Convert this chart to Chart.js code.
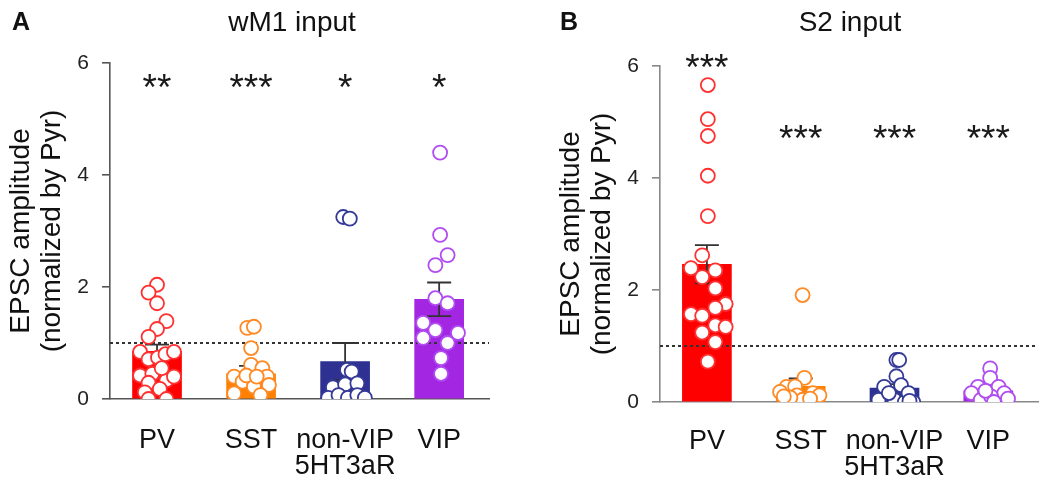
<!DOCTYPE html>
<html>
<head>
<meta charset="utf-8">
<script src="https://cdn.jsdelivr.net/npm/chart.js@4.4.1/dist/chart.umd.min.js"></script>
<style>
  body { margin: 0; background: #fff; }
  #wrap { position: relative; width: 1050px; height: 486px; font-family: "Liberation Sans", Arial, sans-serif; color: #111; }
  canvas { position: absolute; top: 0; }
  .lbl { position: absolute; white-space: nowrap; }
  .panel { font-weight: bold; font-size: 25px; line-height: 25px; }
  .title { font-size: 28px; line-height: 28px; transform: translateX(-50%); }
</style>
</head>
<body>
<div id="wrap">
  <canvas id="chartA" width="525" height="486" style="left:0"></canvas>
  <canvas id="chartB" width="525" height="486" style="left:525px"></canvas>
  <div class="lbl panel" style="left:12px; top:9px">A</div>
  <div class="lbl title" style="left:292px; top:8px">wM1 input</div>
  <div class="lbl panel" style="left:560px; top:9px">B</div>
  <div class="lbl title" style="left:850px; top:8px">S2 input</div>
</div>
<script>
const FONT = '"Liberation Sans", Arial, sans-serif';

// groups on the x axis
const tickLabels = [["PV"], ["SST"], ["non-VIP", "5HT3aR"], ["VIP"]];
const barColors = ["#ff0000", "#ff8000", "#2e3192", "#a326e3"];
const pointColors = ["#ff3030", "#ff8a24", "#343a96", "#b04cf0"];

// ---- panel A : wM1 input ----
const meanA = [0.85, 0.45, 0.67, 1.78];
const semA = [0.12, 0.14, 0.33, 0.3];
const starsA = ["**", "***", "*", "*"];
const starYA = [5.73, 5.73, 5.73, 5.73];
// [jitter offset (category units), value]
const pvA = [[0, 2.04], [-0.09, 1.9], [0, 1.71], [0.1, 1.39], [0, 1.25], [-0.09, 1.11],
  [-0.18, 0.84], [-0.09, 0.71], [0.01, 0.74], [0.09, 0.8], [0.18, 0.84], [-0.18, 0.42],
  [-0.05, 0.45], [0.1, 0.33], [0.18, 0.4], [-0.09, 0.29], [0.03, 0.18], [-0.13, 0.12],
  [-0.09, 0.0], [0.1, 0.0], [0.05, 0.55]];
const sstA = [[-0.04, 1.27], [0.03, 1.29], [0, 0.91], [0, 0.61], [0.12, 0.55], [-0.18, 0.4],
  [0.17, 0.4], [-0.09, 0.31], [0.03, 0.22], [0.19, 0.25], [-0.18, 0.1], [0.1, 0.07],
  [-0.05, 0.42], [0.06, 0.4]];
const nonVipA = [[-0.02, 3.25], [0.05, 3.22], [0.02, 0.52], [0.07, 0.49], [-0.13, 0.21],
  [0, 0.26], [0.13, 0.28], [-0.18, 0.02], [-0.07, 0.07], [0.03, 0.02], [0.13, 0.07], [0.21, 0.02]];
const vipA = [[0.01, 4.4], [0.01, 2.93], [0.09, 2.57], [-0.04, 2.39], [-0.04, 1.8], [0.09, 1.71],
  [-0.17, 1.36], [-0.04, 1.23], [0.2, 1.18], [-0.17, 1.09], [0.09, 1.0], [0.02, 0.73], [0.02, 0.45]];

// ---- panel B : S2 input ----
const meanB = [2.46, 0.28, 0.25, 0.2];
const semB = [0.34, 0.14, 0.07, 0.05];
const starsB = ["***", "***", "***", "***"];
const starYB = [6.14, 4.86, 4.86, 4.86];
const pvB = [[0.01, 5.66], [0.01, 5.05], [0.01, 4.75], [0.01, 4.04], [0.01, 3.32], [-0.05, 2.62],
  [-0.17, 2.39], [0.09, 2.35], [-0.05, 2.23], [0.09, 2.03], [0.2, 1.75], [0.09, 1.68],
  [-0.17, 1.57], [-0.05, 1.54], [0.09, 1.37], [0.2, 1.34], [-0.05, 1.24], [0.09, 1.07], [0.01, 0.72]];
const sstB = [[0.02, 1.91], [0.04, 0.43], [-0.15, 0.27], [-0.06, 0.28], [-0.22, 0.18], [-0.04, 0.12],
  [0.13, 0.16], [0.2, 0.12], [0.02, 0.04], [-0.11, 0.08], [0.1, 0.06], [-0.18, 0.1]];
const nonVipB = [[0.02, 0.75], [0.05, 0.75], [0.02, 0.46], [-0.11, 0.27], [0.07, 0.3], [-0.17, 0.04],
  [0, 0.04], [0.11, 0.0], [0.2, 0.0], [-0.06, 0.16], [0.15, 0.16], [0.16, 0.02]];
const vipB = [[0.02, 0.6], [0.02, 0.43], [-0.11, 0.27], [0.11, 0.27], [-0.18, 0.16], [0.17, 0.16],
  [-0.08, 0.04], [0.03, 0.1], [0.21, 0.06], [0.06, 0.0], [-0.03, 0.2]];

const refLine = 1; // normalized to Pyr
const X_MIN = -0.5, X_MAX = 3.53;

// error bars drawn right after the bars, under the dots
const errorBars = {
  id: "errorBars",
  afterDatasetDraw(chart, args, opts) {
    if (args.index !== 0) return;
    const { ctx, scales: { x, y } } = chart;
    ctx.save();
    ctx.strokeStyle = "#333";
    ctx.lineWidth = 1.8;
    opts.means.forEach((m, i) => {
      const px = x.getPixelForValue(i);
      const hi = y.getPixelForValue(m + opts.sems[i]);
      const lo = y.getPixelForValue(Math.max(0, m - opts.sems[i]));
      ctx.beginPath();
      ctx.moveTo(px, hi); ctx.lineTo(px, lo);
      ctx.moveTo(px - 12, hi); ctx.lineTo(px + 12, hi);
      ctx.moveTo(px - 12, lo); ctx.lineTo(px + 12, lo);
      ctx.stroke();
    });
    ctx.restore();
  },
};

const starLabels = {
  id: "starLabels",
  afterDraw(chart, args, opts) {
    const { ctx, scales: { x, y } } = chart;
    const size = 37;
    ctx.save();
    ctx.font = size + "px " + FONT;
    ctx.fillStyle = "#1a1a1a";
    ctx.textAlign = "center";
    ctx.textBaseline = "alphabetic";
    opts.stars.forEach((s, i) => {
      ctx.fillText(s, x.getPixelForValue(i), y.getPixelForValue(opts.ys[i]) + 0.58 * size);
    });
    ctx.restore();
  },
};

function makePanel(id, cfg) {
  const datasets = [
    {
      type: "bar",
      data: cfg.means.map((m, i) => ({ x: i, y: m })),
      backgroundColor: barColors,
      borderWidth: 0,
      barThickness: 49,
      order: 3,
    },
    {
      type: "line",
      data: [{ x: X_MIN, y: refLine }, { x: X_MAX, y: refLine }],
      borderColor: "#333",
      borderWidth: 1.8,
      borderDash: [3, 3],
      pointRadius: 0,
      order: 2,
    },
  ];
  cfg.points.forEach((grp, i) => {
    datasets.push({
      type: "scatter",
      data: grp.map((p) => ({ x: i + p[0], y: p[1] })),
      pointRadius: 7,
      pointBorderWidth: 1.8,
      pointBackgroundColor: "#ffffff",
      pointBorderColor: pointColors[i],
      order: 1,
    });
  });

  return new Chart(document.getElementById(id), {
    type: "bar",
    data: { datasets: datasets },
    options: {
      responsive: false,
      animation: false,
      layout: { padding: cfg.padding },
      plugins: {
        legend: { display: false },
        tooltip: { enabled: false },
        errorBars: { means: cfg.means, sems: cfg.sems },
        starLabels: { stars: cfg.stars, ys: cfg.starYs },
      },
      scales: {
        x: {
          type: "linear",
          min: X_MIN,
          max: X_MAX,
          offset: false,
          afterBuildTicks: (s) => { s.ticks = tickLabels.map((_, i) => ({ value: i })); },
          afterFit: (s) => { s.height = cfg.xHeight; },
          ticks: {
            callback: (v) => tickLabels[v],
            color: "#111",
            font: { family: FONT, size: 27, lineHeight: 0.95 },
            padding: cfg.xPad,
            autoSkip: false,
            maxRotation: 0,
          },
          grid: { display: true, offset: false, drawOnChartArea: false, drawTicks: false, color: cfg.axisColor },
          border: { color: cfg.axisColor, width: 1.6 },
        },
        y: {
          min: 0,
          max: 6,
          afterFit: (s) => { s.width = 110; },
          ticks: { stepSize: 2, color: "#222", font: { family: FONT, size: 21 }, padding: 13 },
          grid: { drawOnChartArea: false, drawTicks: true, tickLength: 8, color: cfg.axisColor, lineWidth: 1.6 },
          border: { color: cfg.axisColor, width: 1.6 },
          title: {
            display: true,
            text: ["EPSC amplitude", "(normalized by Pyr)"],
            color: "#111",
            font: { family: FONT, size: 28, lineHeight: 1.1 },
            padding: { top: 6, bottom: 0 },
          },
        },
      },
    },
    plugins: [errorBars, starLabels],
  });
}

makePanel("chartA", {
  means: meanA, sems: semA, stars: starsA, starYs: starYA,
  points: [pvA, sstA, nonVipA, vipA],
  padding: { left: 0, top: 63, right: 36, bottom: 0 },
  xHeight: 87, xPad: 29, axisColor: "#555",
});

makePanel("chartB", {
  means: meanB, sems: semB, stars: starsB, starYs: starYB,
  points: [pvB, sstB, nonVipB, vipB],
  padding: { left: 25, top: 66, right: 12, bottom: 0 },
  xHeight: 84, xPad: 27, axisColor: "#888",
});
</script>
</body>
</html>
